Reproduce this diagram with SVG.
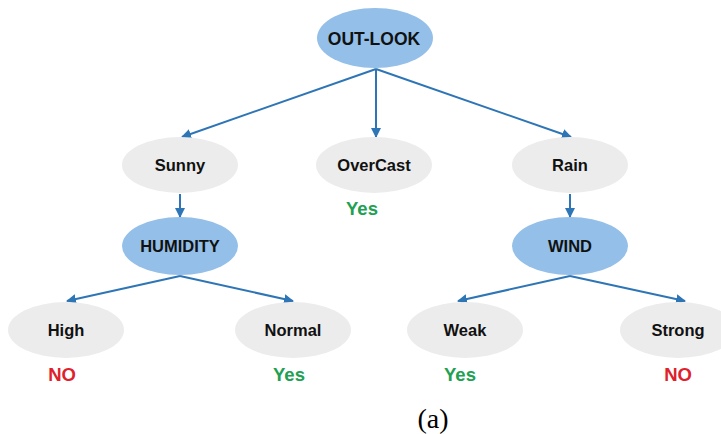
<svg xmlns="http://www.w3.org/2000/svg" width="721" height="434" viewBox="0 0 721 434">
<style>
.blue{fill:#93bfe8}
.gray{fill:#ececec}
.lbl{font-family:"Liberation Sans",Arial,sans-serif;font-weight:bold;font-size:16.5px;fill:#111;text-anchor:middle}
.yes{font-family:"Liberation Sans",Arial,sans-serif;font-weight:bold;font-size:18.5px;fill:#22a052;text-anchor:middle}
.no{font-family:"Liberation Sans",Arial,sans-serif;font-weight:bold;font-size:18.5px;fill:#e0202a;text-anchor:middle}
.edge{stroke:#2e75b6;stroke-width:2;fill:none;marker-end:url(#ah)}
</style>
<defs>
<marker id="ah" viewBox="0 0 10 10" refX="9" refY="5" markerWidth="5" markerHeight="5" orient="auto" markerUnits="strokeWidth">
<path d="M0,0 L10,5 L0,10 z" fill="#2e75b6"/>
</marker>
</defs>
<rect width="721" height="434" fill="#fff"/>
<g id="connectors">
<line class="edge" x1="376" y1="69" x2="182" y2="137"/>
<line class="edge" x1="376" y1="69" x2="376" y2="137"/>
<line class="edge" x1="376" y1="69" x2="571" y2="137"/>
<line class="edge" x1="180" y1="194" x2="180" y2="217"/>
<line class="edge" x1="570" y1="194" x2="570" y2="217"/>
<line class="edge" x1="180" y1="276" x2="67" y2="301"/>
<line class="edge" x1="180" y1="276" x2="293" y2="301"/>
<line class="edge" x1="570" y1="276" x2="458" y2="301"/>
<line class="edge" x1="570" y1="276" x2="685" y2="301"/>
</g>
<g id="outlook"><ellipse class="blue" cx="375" cy="38" rx="58" ry="30"/><text class="lbl" x="374" y="45" font-size="17.5px" style="font-size:17.5px">OUT-LOOK</text></g>
<g id="sunny"><ellipse class="gray" cx="180" cy="165" rx="58" ry="28"/><text class="lbl" x="180" y="171">Sunny</text></g>
<g id="overcast"><ellipse class="gray" cx="374" cy="165" rx="58" ry="28"/><text class="lbl" x="374" y="171">OverCast</text></g>
<g id="rain"><ellipse class="gray" cx="570" cy="165" rx="58" ry="28"/><text class="lbl" x="570" y="171">Rain</text></g>
<g id="humidity"><ellipse class="blue" cx="180" cy="246" rx="58" ry="29"/><text class="lbl" x="180" y="252">HUMIDITY</text></g>
<g id="wind"><ellipse class="blue" cx="570" cy="246" rx="58" ry="29"/><text class="lbl" x="570" y="252">WIND</text></g>
<g id="high"><ellipse class="gray" cx="66" cy="330" rx="58" ry="28"/><text class="lbl" x="66" y="336">High</text></g>
<g id="normal"><ellipse class="gray" cx="293" cy="330" rx="58" ry="28"/><text class="lbl" x="293" y="336">Normal</text></g>
<g id="weak"><ellipse class="gray" cx="465" cy="330" rx="58" ry="28"/><text class="lbl" x="465" y="336">Weak</text></g>
<g id="strong"><ellipse class="gray" cx="678" cy="330" rx="58" ry="28"/><text class="lbl" x="678" y="336">Strong</text></g>
<g id="results">
<text class="yes" x="362" y="215">Yes</text>
<text class="no" x="62" y="381">NO</text>
<text class="yes" x="289" y="381">Yes</text>
<text class="yes" x="460" y="381">Yes</text>
<text class="no" x="678" y="381">NO</text>
</g>
<text x="433" y="428" font-family="Liberation Serif,'Times New Roman',serif" font-size="28" fill="#000" text-anchor="middle">(a)</text>
</svg>
